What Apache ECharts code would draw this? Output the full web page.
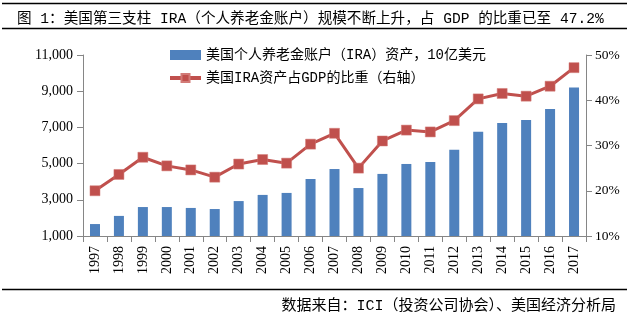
<!DOCTYPE html>
<html>
<head>
<meta charset="utf-8">
<script src="https://cdn.jsdelivr.net/npm/echarts@6/dist/echarts.min.js"></script>
<style>html,body{margin:0;padding:0;background:#fff}#c{width:629px;height:326px}</style>
</head>
<body>
<div id="c"></div>
<script>
var years = ['1997','1998','1999','2000','2001','2002','2003','2004','2005','2006','2007','2008','2009','2010','2011','2012','2013','2014','2015','2016','2017'];
var iraAssets = [1660, 2110, 2600, 2600, 2550, 2490, 2930, 3270, 3380, 4150, 4700, 3650, 4430, 4980, 5090, 5760, 6760, 7240, 7410, 8020, 9200];
var iraGdpShare = [20.0, 23.6, 27.4, 25.5, 24.6, 23.0, 25.9, 26.9, 26.1, 30.3, 32.7, 25.0, 31.0, 33.4, 33.0, 35.5, 40.3, 41.5, 40.9, 43.1, 47.2];
var seriesNames = ['美国个人养老金账户（IRA）资产，10亿美元', '美国IRA资产占GDP的比重（右轴）'];
var titleText = '图 1：美国第三支柱 IRA（个人养老金账户）规模不断上升，占 GDP 的比重已至 47.2%';
var sourceText = '数据来自：ICI（投资公司协会）、美国经济分析局';

var mixFont = '"Liberation Mono", "Noto Sans CJK SC", sans-serif';
var serifFont = '"Liberation Serif", "Noto Sans CJK SC", serif';
var axisGray = '#868686';

function fmtThousands(v) {
  return String(v).replace(/\B(?=(\d{3})+(?!\d))/g, ',');
}

var chart = echarts.init(document.getElementById('c'), null, {renderer: 'canvas'});
chart.setOption({
  animation: false,
  backgroundColor: '#fff',
  title: {
    text: titleText,
    left: 12, top: 7,
    textStyle: {fontFamily: mixFont, fontSize: 14.6, fontWeight: 'normal', color: '#000'}
  },
  graphic: [
    {type: 'line', shape: {x1: 2, y1: 3.5, x2: 627, y2: 3.5}, style: {stroke: '#000', lineWidth: 1.5}},
    {type: 'line', shape: {x1: 2, y1: 28.5, x2: 627, y2: 28.5}, style: {stroke: '#000', lineWidth: 1.5}},
    {type: 'line', shape: {x1: 2, y1: 289.5, x2: 627, y2: 289.5}, style: {stroke: '#000', lineWidth: 1.5}},
    {type: 'text', right: 13, top: 299,
     style: {text: sourceText, font: '15px ' + mixFont, fill: '#000'}}
  ],
  legend: {
    orient: 'vertical',
    left: 163, top: 43,
    itemWidth: 31, itemHeight: 10, itemGap: 9,
    textStyle: {fontFamily: mixFont, fontSize: 14, color: '#000'},
    data: [
      {name: seriesNames[0], icon: 'rect', itemStyle: {color: '#4F81BD'}},
      {name: seriesNames[1], lineStyle: {width: 4, color: '#C0504D'}}
    ]
  },
  grid: {left: 83, right: 43, top: 55, bottom: 90, containLabel: false},
  xAxis: {
    type: 'category',
    data: years,
    boundaryGap: true,
    axisLine: {lineStyle: {color: axisGray, width: 1}},
    axisTick: {show: true, length: 6, alignWithLabel: false, lineStyle: {color: axisGray}},
    axisLabel: {rotate: 90, margin: 10, interval: 0, fontFamily: serifFont, fontSize: 14, color: '#000'}
  },
  yAxis: [
    {
      type: 'value', min: 1000, max: 11000, interval: 2000,
      axisLine: {show: true, lineStyle: {color: axisGray}},
      axisTick: {show: true, length: 6, lineStyle: {color: axisGray}},
      splitLine: {show: false},
      axisLabel: {margin: 10, fontFamily: serifFont, fontSize: 14, color: '#000', formatter: fmtThousands}
    },
    {
      type: 'value', min: 10, max: 50, interval: 10, position: 'right',
      axisLine: {show: true, lineStyle: {color: axisGray}},
      axisTick: {show: true, length: 6, lineStyle: {color: axisGray}},
      splitLine: {show: false},
      axisLabel: {margin: 9, fontFamily: serifFont, fontSize: 13.5, color: '#000', formatter: '{value}%'}
    }
  ],
  series: [
    {
      name: seriesNames[0], type: 'bar', data: iraAssets, yAxisIndex: 0,
      barWidth: 10,
      itemStyle: {color: '#4F81BD'}
    },
    {
      name: seriesNames[1], type: 'line', data: iraGdpShare, yAxisIndex: 1,
      symbol: 'rect', symbolSize: 10,
      lineStyle: {color: '#C0504D', width: 3},
      itemStyle: {color: '#C0504D', borderColor: '#D27A77', borderWidth: 0.5}
    }
  ]
});
</script>
</body>
</html>
